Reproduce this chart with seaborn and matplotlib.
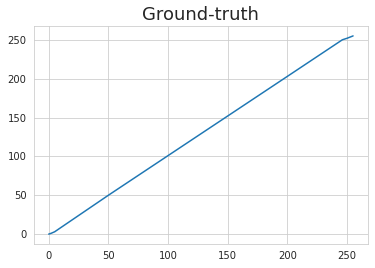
import matplotlib
matplotlib.use("Agg")
import matplotlib.pyplot as plt
import seaborn as sns
import pandas as pd

x_vals = [0, 2, 5, 50, 100, 150, 200, 246, 250, 255]
y_vals = [0, 1, 3, 50, 101, 152, 203, 250, 252, 255]

sns.set_style("whitegrid")
fig = plt.figure(figsize=(375/72, 268/72), dpi=72)
ax = fig.add_axes([33.5/375, 1-244/268, (368.3-33.5)/375, (244-26)/268])
df = pd.DataFrame({"x": x_vals, "y": y_vals})
sns.lineplot(data=df, x="x", y="y", ax=ax)
ax.set_xlabel("")
ax.set_ylabel("")
ax.set_xticks([0, 50, 100, 150, 200, 250])
ax.set_yticks([0, 50, 100, 150, 200, 250])
ax.set_title("Ground-truth", fontsize=18)
fig.savefig("out.png", dpi=72)
